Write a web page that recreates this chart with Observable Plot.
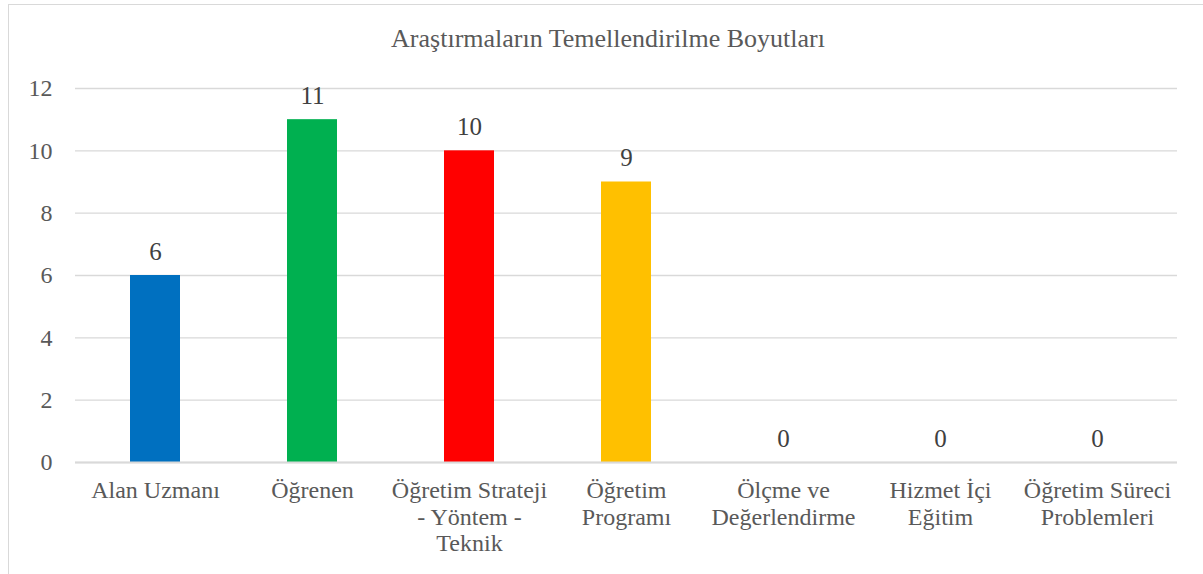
<!DOCTYPE html>
<html>
<head>
<meta charset="utf-8">
<script src="https://cdn.jsdelivr.net/npm/d3@7"></script>
<script src="https://cdn.jsdelivr.net/npm/@observablehq/plot@0.6"></script>
<style>
  html, body { margin: 0; padding: 0; background: #fff; width: 1203px; height: 574px; overflow: hidden; }
  #frame { position: absolute; left: 8px; top: 4px; width: 1300px; height: 700px; border-left: 1px solid #d9d9d9; border-top: 1px solid #d9d9d9; }
  #title { position: absolute; left: 0; width: 1216px; top: 26px; text-align: center; font-family: "Liberation Serif", "Times New Roman", serif; font-size: 26px; color: #595959; line-height: 1; }
  #chart { position: absolute; left: 0; top: 0; }
  #chart svg, #chart svg text { font-family: "Liberation Serif", "Times New Roman", serif !important; }
</style>
</head>
<body>
<div id="frame"></div>
<div id="chart"></div>
<div id="title">Araştırmaların Temellendirilme Boyutları</div>
<script>
const categories = ["Alan Uzmanı", "Öğrenen", "Öğretim Strateji - Yöntem - Teknik", "Öğretim Programı", "Ölçme ve Değerlendirme", "Hizmet İçi Eğitim", "Öğretim Süreci Problemleri"];
const tickLabels = ["Alan Uzmanı", "Öğrenen", "Öğretim Strateji\n- Yöntem -\nTeknik", "Öğretim\nProgramı", "Ölçme ve\nDeğerlendirme", "Hizmet İçi\nEğitim", "Öğretim Süreci\nProblemleri"];
const values = [6, 11, 10, 9, 0, 0, 0];
const colors = ["#0070C0", "#00B050", "#FF0000", "#FFC000", "#A5A5A5", "#5B9BD5", "#70AD47"];
const yTicks = [0, 2, 4, 6, 8, 10, 12];

const data = categories.map((c, i) => ({category: c, value: values[i], color: colors[i]}));
const labelMap = new Map(categories.map((c, i) => [c, tickLabels[i]]));

const font = "Liberation Serif";

const chart = Plot.plot({
  width: 1203,
  height: 574,
  marginLeft: 75,
  marginRight: 26,
  marginTop: 88,
  marginBottom: 112,
  style: {fontSize: "24px", color: "#595959", background: "transparent"},
  x: {domain: categories, paddingInner: 0.68, paddingOuter: 0.34, label: null},
  y: {domain: [0, 12], label: null},
  marks: [
    Plot.gridY(yTicks, {stroke: "#d9d9d9", strokeOpacity: 1, strokeWidth: 1.3}),
    Plot.barY(data, {x: "category", y: "value", fill: "color"}),
    Plot.ruleY([0], {stroke: "#d9d9d9", strokeWidth: 2}),
    Plot.axisY({ticks: yTicks, tickSize: 0, tickPadding: 23, fontSize: 24, fontFamily: font, fill: "#595959", label: null}),
    Plot.axisX({tickSize: 0, tickPadding: 17, fontSize: 24, fontFamily: font, fill: "#595959", lineHeight: 1.1, tickFormat: d => labelMap.get(d), label: null}),
    Plot.text(data, {x: "category", y: "value", text: d => String(d.value), dy: -16, lineAnchor: "bottom", fontSize: 25, fontFamily: font, fill: "#404040"})
  ]
});
document.getElementById("chart").appendChild(chart);
</script>
</body>
</html>
